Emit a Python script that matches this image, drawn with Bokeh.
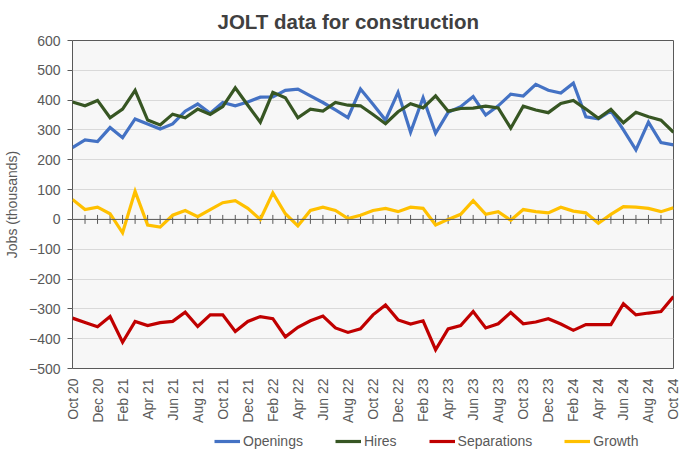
import math
from bokeh.plotting import figure
from bokeh.layouts import column
from bokeh.models import FixedTicker, Span, Legend, LegendItem, Range1d
from bokeh.embed import file_html
from bokeh.resources import INLINE

months = ["Oct 20", "Nov 20", "Dec 20", "Jan 21", "Feb 21", "Mar 21", "Apr 21", "May 21",
          "Jun 21", "Jul 21", "Aug 21", "Sep 21", "Oct 21", "Nov 21", "Dec 21", "Jan 22",
          "Feb 22", "Mar 22", "Apr 22", "May 22", "Jun 22", "Jul 22", "Aug 22", "Sep 22",
          "Oct 22", "Nov 22", "Dec 22", "Jan 23", "Feb 23", "Mar 23", "Apr 23", "May 23",
          "Jun 23", "Jul 23", "Aug 23", "Sep 23", "Oct 23", "Nov 23", "Dec 23", "Jan 24",
          "Feb 24", "Mar 24", "Apr 24", "May 24", "Jun 24", "Jul 24", "Aug 24", "Sep 24",
          "Oct 24"]

openings = [241, 267, 261, 308, 274, 337, 320, 303, 320, 363, 387, 356, 392, 381, 394, 410,
            411, 433, 437, 414, 392, 367, 341, 437, 386, 333, 426, 292, 408, 289, 359, 378,
            412, 350, 381, 420, 414, 453, 433, 424, 457, 344, 337, 364, 300, 233, 326, 258,
            250]
hires = [394, 381, 399, 341, 370, 433, 333, 317, 353, 341, 370, 352, 378, 441, 383, 326,
         426, 408, 341, 370, 363, 392, 383, 381, 352, 321, 361, 388, 374, 414, 363, 372,
         373, 380, 374, 306, 380, 367, 358, 389, 399, 370, 339, 369, 324, 359, 344, 333,
         292]
separations = [-331, -346, -360, -326, -412, -342, -356, -346, -342, -311, -359, -320, -320,
               -376, -342, -326, -333, -394, -362, -340, -324, -364, -379, -367, -320, -287,
               -337, -351, -340, -437, -367, -356, -309, -364, -350, -312, -350, -344, -333,
               -351, -372, -353, -353, -353, -283, -320, -314, -309, -259]
growth = [67, 33, 41, 19, -45, 94, -19, -26, 14, 30, 9, 33, 56, 63, 37, 0, 89, 19, -22, 30,
          41, 30, 3, 14, 30, 37, 26, 41, 37, -19, 0, 17, 63, 17, 26, -3, 33, 26, 22, 41, 28,
          22, -13, 17, 43, 41, 37, 26, 39]

series_names = ["Openings", "Hires", "Separations", "Growth"]
series_colors = ["#4472C4", "#375623", "#C00000", "#FFC000"]
y_ticks = [-500, -400, -300, -200, -100, 0, 100, 200, 300, 400, 500, 600]

FONT = "Liberation Sans"
GREY = "#595959"

idx = list(range(len(months)))
series_data = [openings, hires, separations, growth]

p = figure(width=680, height=432, output_backend="svg", toolbar_location=None,
           x_range=Range1d(0, len(months) - 1), y_range=Range1d(y_ticks[0], y_ticks[-1]),
           min_border_left=62, min_border_right=7, min_border_top=39, min_border_bottom=64,
           background_fill_color="#F7F7F7", border_fill_color="white")

p.outline_line_color = GREY
p.outline_line_width = 1

p.title.text = "JOLT data for construction"
p.title.align = "left"
p.title.offset = 145
p.title.text_font = FONT
p.title.text_font_size = "20.5px"
p.title.text_font_style = "bold"
p.title.text_color = "#404040"
p.title.standoff = 15

p.xgrid.grid_line_color = None
p.ygrid.grid_line_color = "#D9D9D9"
p.ygrid.grid_line_width = 1

p.yaxis.ticker = FixedTicker(ticks=y_ticks)
p.yaxis.axis_label = "Jobs (thousands)"
p.yaxis.axis_label_text_font = FONT
p.yaxis.axis_label_text_font_size = "14px"
p.yaxis.axis_label_text_font_style = "normal"
p.yaxis.axis_label_text_color = GREY
p.yaxis.axis_label_standoff = 6
p.yaxis.major_label_text_font = FONT
p.yaxis.major_label_text_font_size = "14px"
p.yaxis.major_label_text_color = GREY
p.yaxis.major_label_standoff = 7
p.yaxis.axis_line_color = None
p.yaxis.major_tick_line_color = GREY
p.yaxis.major_tick_out = 5
p.yaxis.major_tick_in = 0
p.yaxis.minor_tick_line_color = None

even = idx[::2]
p.xaxis.ticker = FixedTicker(ticks=even)
p.xaxis.major_label_overrides = {i: months[i] for i in even}
p.xaxis.major_label_orientation = math.pi / 2
p.xaxis.major_label_text_font = FONT
p.xaxis.major_label_text_font_size = "14px"
p.xaxis.major_label_text_color = GREY
p.xaxis.major_label_standoff = 10
p.xaxis.axis_label_standoff = 0
p.xaxis.axis_line_color = None
p.xaxis.major_tick_line_color = None
p.xaxis.minor_tick_line_color = None
p.xaxis.major_tick_out = 0
p.xaxis.major_tick_in = 0

# category axis crossing at zero with cross tick marks
p.add_layout(Span(location=0, dimension="width", line_color=GREY, line_width=1))
p.segment(x0=idx[1:-1], y0=-15, x1=idx[1:-1], y1=15, line_color=GREY, line_width=1)

for data, col in zip(series_data, series_colors):
    p.line(x=idx, y=data, line_color=col, line_width=3.2, line_join="miter")

# legend strip below the chart
lf = figure(width=680, height=18, output_backend="svg", toolbar_location=None,
            x_range=Range1d(-10, -9), y_range=Range1d(-10, -9),
            x_axis_location=None, y_axis_location=None,
            min_border_left=0, min_border_right=0, min_border_top=0, min_border_bottom=0,
            background_fill_color="white", border_fill_color="white")
lf.outline_line_color = None
lf.xgrid.grid_line_color = None
lf.ygrid.grid_line_color = None

items = []
for name, data, col in zip(series_names, series_data, series_colors):
    r = lf.line(x=idx, y=data, line_color=col, line_width=3.2)
    items.append(LegendItem(label=name, renderers=[r]))

legend = Legend(items=items, orientation="horizontal", location=(142, 1),
                spacing=32, glyph_width=26, glyph_height=14, label_standoff=3,
                label_height=14, label_text_font=FONT, label_text_font_size="14px",
                label_text_color=GREY, border_line_color=None, background_fill_alpha=0,
                padding=0, margin=0)
lf.add_layout(legend)

layout = column(p, lf, spacing=0)
open("out.html", "w").write(file_html(layout, INLINE))
